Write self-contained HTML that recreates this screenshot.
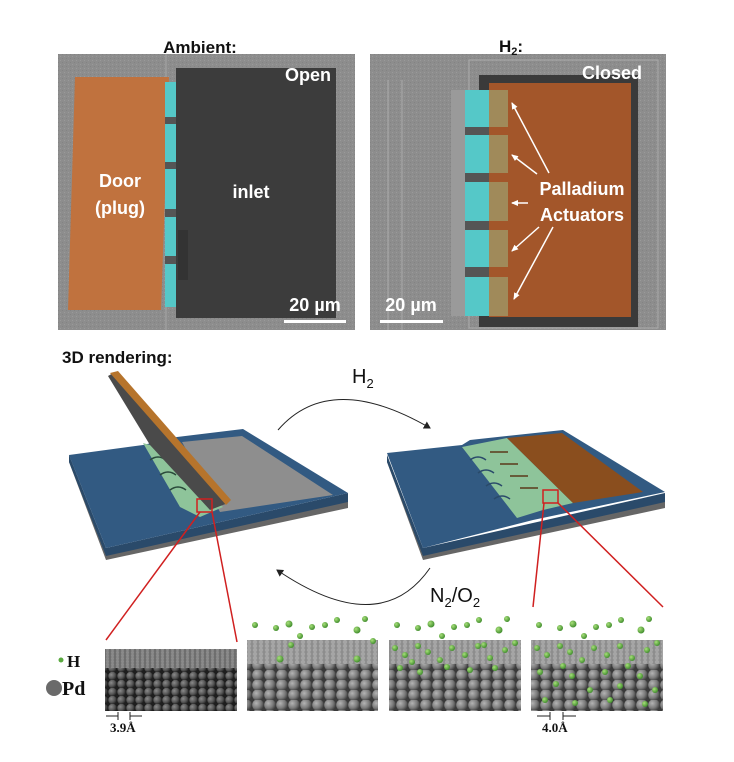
<!DOCTYPE html>
<html><head><meta charset="utf-8"><style>
html,body{margin:0;padding:0;background:#fff;}
svg{display:block;}
.sans{font-family:"Liberation Sans",sans-serif;}
.serif{font-family:"Liberation Serif",serif;}
</style></head><body>
<svg width="734" height="762" viewBox="0 0 734 762" xmlns="http://www.w3.org/2000/svg">
<defs>
<radialGradient id="sph" cx="0.35" cy="0.35" r="0.7"><stop offset="0" stop-color="#b4b4b4"/><stop offset="0.6" stop-color="#7a7a7a"/><stop offset="1" stop-color="#3c3c3c"/></radialGradient>
<radialGradient id="sphd" cx="0.35" cy="0.35" r="0.7"><stop offset="0" stop-color="#8a8a8a"/><stop offset="0.6" stop-color="#555"/><stop offset="1" stop-color="#222"/></radialGradient>
<radialGradient id="gr" cx="0.35" cy="0.35" r="0.7"><stop offset="0" stop-color="#a8e07a"/><stop offset="1" stop-color="#3d8a2a"/></radialGradient>
<pattern id="big" width="12" height="10" patternUnits="userSpaceOnUse"><rect width="12" height="10" fill="#3a3a3a"/><circle cx="6" cy="5" r="5.8" fill="url(#sph)"/></pattern>
<pattern id="sm" width="9" height="8" patternUnits="userSpaceOnUse"><rect width="9" height="8" fill="#1e1e1e"/><circle cx="4.5" cy="4" r="4.2" fill="url(#sphd)"/></pattern>
<pattern id="top" width="6" height="4" patternUnits="userSpaceOnUse"><rect width="6" height="4" fill="#8d8d8d"/><circle cx="3" cy="2" r="2.2" fill="#a5a5a5"/></pattern>
<pattern id="top1" width="5" height="3" patternUnits="userSpaceOnUse"><rect width="5" height="3" fill="#6e6e6e"/><circle cx="2.5" cy="1.5" r="1.6" fill="#8a8a8a"/></pattern>
<pattern id="sem" width="4" height="4" patternUnits="userSpaceOnUse"><rect width="4" height="4" fill="#8d8d8d"/><rect width="1" height="1" fill="#9a9a9a"/><rect x="2" y="2" width="1" height="1" fill="#838383"/></pattern>
<marker id="ar" markerWidth="8" markerHeight="8" refX="6" refY="4" orient="auto" markerUnits="userSpaceOnUse"><path d="M0,0 L7,4 L0,8 z" fill="#222"/></marker>
<marker id="aw" markerWidth="8" markerHeight="8" refX="6" refY="4" orient="auto" markerUnits="userSpaceOnUse"><path d="M0,1 L7,4 L0,7 z" fill="#fff"/></marker>
</defs>

<!-- Left SEM -->
<rect x="58" y="54" width="297" height="276" fill="url(#sem)"/>
<line x1="166" y1="54" x2="166" y2="330" stroke="#a8a8a8" stroke-width="1"/>
<rect x="176" y="68" width="160" height="250" fill="#3c3c3c"/>
<rect x="178" y="230" width="10" height="50" fill="#333"/>
<polygon points="75,77 169,77 161,310 68,310" fill="#c0723e"/>
<rect x="165" y="82" width="11" height="225" fill="#55c8c8"/>
<rect x="165" y="117" width="11" height="7" fill="#555"/>
<rect x="165" y="162" width="11" height="7" fill="#555"/>
<rect x="165" y="209" width="11" height="8" fill="#555"/>
<rect x="165" y="256" width="11" height="8" fill="#555"/>
<g class="sans" font-weight="bold" fill="#fff" font-size="18" text-anchor="middle">
<text x="308" y="81">Open</text>
<text x="120" y="187">Door</text>
<text x="120" y="214">(plug)</text>
<text x="251" y="198">inlet</text>
<text x="315" y="311">20 µm</text>
</g>
<rect x="284" y="320" width="62" height="3" fill="#fff"/>

<!-- Right SEM -->
<rect x="370" y="54" width="296" height="276" fill="url(#sem)"/>
<rect x="469" y="60" width="189" height="268" fill="none" stroke="#aaa" stroke-width="1"/>
<rect x="451" y="90" width="16" height="226" fill="#9a9a9a"/>
<line x1="388" y1="80" x2="388" y2="330" stroke="#aaa"/>
<line x1="402" y1="80" x2="402" y2="330" stroke="#aaa"/>
<rect x="479" y="75" width="159" height="252" fill="#3a3a3a"/>
<rect x="489" y="83" width="142" height="234" fill="#a3562a"/>
<rect x="465" y="90" width="24" height="226" fill="#55c8c8"/>
<rect x="489" y="90" width="19" height="226" fill="#a08a5a"/>
<g fill="#555"><rect x="465" y="127" width="24" height="8"/><rect x="465" y="173" width="24" height="9"/><rect x="465" y="221" width="24" height="9"/><rect x="465" y="267" width="24" height="10"/></g>
<g fill="#a3562a"><rect x="489" y="127" width="19" height="8"/><rect x="489" y="173" width="19" height="9"/><rect x="489" y="221" width="19" height="9"/><rect x="489" y="267" width="19" height="10"/></g>
<g class="sans" font-weight="bold" fill="#fff" font-size="18" text-anchor="middle">
<text x="612" y="79">Closed</text>
<text x="582" y="195">Palladium</text>
<text x="582" y="221">Actuators</text>
<text x="411" y="311">20 µm</text>
</g>
<g stroke="#fff" stroke-width="1.5" marker-end="url(#aw)">
<line x1="549" y1="173" x2="512" y2="103"/>
<line x1="537" y1="174" x2="512" y2="155"/>
<line x1="528" y1="203" x2="512" y2="203"/>
<line x1="539" y1="227" x2="512" y2="251"/>
<line x1="553" y1="227" x2="514" y2="299"/>
</g>
<rect x="380" y="320" width="63" height="3" fill="#fff"/>

<!-- Titles -->
<text class="sans" x="200" y="53" font-size="17" font-weight="bold" text-anchor="middle" fill="#111">Ambient:</text>
<text class="sans" x="499" y="52" font-size="17" font-weight="bold" fill="#111">H<tspan font-size="11" dy="3">2</tspan><tspan dy="-3">:</tspan></text>

<!-- 3D rendering -->
<text class="sans" x="62" y="363" font-size="17" font-weight="bold" fill="#111">3D rendering:</text>
<text class="sans" x="352" y="383" font-size="20" fill="#111">H<tspan font-size="13" dy="5">2</tspan></text>
<path d="M278,430 Q330,370 430,428" fill="none" stroke="#222" stroke-width="1" marker-end="url(#ar)"/>
<path d="M430,568 Q380,640 277,570" fill="none" stroke="#222" stroke-width="1" marker-end="url(#ar)"/>
<text class="sans" x="430" y="602" font-size="20" fill="#111">N<tspan font-size="13" dy="5">2</tspan><tspan dy="-5">/O</tspan><tspan font-size="13" dy="5">2</tspan></text>

<!-- Left device -->
<g>
<polygon points="69,455 106,550 348,494 348,508 106,560 69,462" fill="#666"/>
<polygon points="69,455 106,548 348,493 348,502 106,556 69,462" fill="#2a4a6a"/>
<polygon points="69,455 143,445 177,437 243,429 348,493 106,548" fill="#325a82"/>
<polygon points="182,442 242,436 333,495 220,512" fill="#8e8e8e"/>
<polygon points="143,443 160,448 223,507 200,517 180,507" fill="#8ec49a"/>
<path d="M150,460 q8,-6 16,0 M160,475 q8,-6 16,0 M170,490 q8,-6 16,0" stroke="#2a4a3a" fill="none" stroke-width="1.5"/>
<polygon points="108,376 115,372 228,503 210,510 150,445" fill="#4a4a4a"/>
<polygon points="110,373 118,371 231,500 226,505" fill="#b6742c"/>
<rect x="197" y="499" width="15" height="13" fill="none" stroke="#d02020" stroke-width="1.5"/>
</g>
<!-- Right device -->
<g>
<polygon points="387,455 423,550 665,494 665,508 423,560 387,462" fill="#666"/>
<polygon points="387,455 423,548 665,493 665,502 423,556 387,462" fill="#2a4a6a"/>
<polygon points="387,453 462,445 470,440 563,430 665,492 533,520 423,548" fill="#325a82"/>
<polygon points="462,447 507,438 573,503 543,510 517,518" fill="#8ec49a"/>
<polygon points="507,438 562,433 643,492 573,503" fill="#8a4e1e"/>
<path d="M470,460 q8,-6 16,0 M478,473 q8,-6 16,0 M486,486 q8,-6 16,0 M494,499 q8,-6 16,0" stroke="#2a4a6a" fill="none" stroke-width="1.5"/>
<path d="M490,452 h18 M500,464 h18 M510,476 h18 M520,488 h18" stroke="#5a3a1a" stroke-width="1.5"/>
<rect x="543" y="490" width="15" height="13" fill="none" stroke="#d02020" stroke-width="1.5"/>
</g>
<g stroke="#d02020" stroke-width="1.5">
<line x1="200" y1="512" x2="106" y2="640"/>
<line x1="212" y1="512" x2="237" y2="642"/>
<line x1="544" y1="503" x2="533" y2="607"/>
<line x1="558" y1="503" x2="663" y2="607"/>
</g>

<!-- Lattice panels -->
<rect x="105" y="649" width="132" height="20" fill="url(#top1)"/>
<rect x="105" y="668" width="132" height="43" fill="url(#sm)"/>
<rect x="247" y="640" width="131" height="24" fill="url(#top)"/>
<rect x="247" y="664" width="131" height="47" fill="url(#big)"/>
<rect x="389" y="640" width="132" height="24" fill="url(#top)"/>
<rect x="389" y="664" width="132" height="47" fill="url(#big)"/>
<rect x="531" y="640" width="132" height="24" fill="url(#top)"/>
<rect x="531" y="664" width="132" height="47" fill="url(#big)"/>
<g fill="url(#gr)">
<circle cx="255" cy="625" r="3"/><circle cx="276" cy="628" r="3"/><circle cx="289" cy="624" r="3.5"/><circle cx="312" cy="627" r="3"/><circle cx="325" cy="625" r="3"/><circle cx="337" cy="620" r="3"/><circle cx="357" cy="630" r="3.5"/><circle cx="365" cy="619" r="3"/><circle cx="300" cy="636" r="3"/>
<circle cx="397" cy="625" r="3"/><circle cx="418" cy="628" r="3"/><circle cx="431" cy="624" r="3.5"/><circle cx="454" cy="627" r="3"/><circle cx="467" cy="625" r="3"/><circle cx="479" cy="620" r="3"/><circle cx="499" cy="630" r="3.5"/><circle cx="507" cy="619" r="3"/><circle cx="442" cy="636" r="3"/>
<circle cx="539" cy="625" r="3"/><circle cx="560" cy="628" r="3"/><circle cx="573" cy="624" r="3.5"/><circle cx="596" cy="627" r="3"/><circle cx="609" cy="625" r="3"/><circle cx="621" cy="620" r="3"/><circle cx="641" cy="630" r="3.5"/><circle cx="649" cy="619" r="3"/><circle cx="584" cy="636" r="3"/>
<circle cx="291" cy="645" r="3"/><circle cx="280" cy="659" r="3.5"/><circle cx="357" cy="659" r="3.5"/><circle cx="373" cy="641" r="3"/>
<circle cx="395" cy="648" r="3"/><circle cx="405" cy="655" r="3"/><circle cx="418" cy="646" r="3"/><circle cx="428" cy="652" r="3"/><circle cx="440" cy="660" r="3"/><circle cx="452" cy="648" r="3"/><circle cx="465" cy="655" r="3"/><circle cx="478" cy="646" r="3"/><circle cx="490" cy="658" r="3"/><circle cx="505" cy="650" r="3"/><circle cx="515" cy="643" r="3"/><circle cx="400" cy="668" r="3"/><circle cx="420" cy="672" r="3"/><circle cx="447" cy="667" r="3"/><circle cx="470" cy="670" r="3"/><circle cx="495" cy="668" r="3"/><circle cx="412" cy="662" r="3"/><circle cx="484" cy="645" r="3"/>
<circle cx="537" cy="648" r="3"/><circle cx="547" cy="655" r="3"/><circle cx="560" cy="646" r="3"/><circle cx="570" cy="652" r="3"/><circle cx="582" cy="660" r="3"/><circle cx="594" cy="648" r="3"/><circle cx="607" cy="655" r="3"/><circle cx="620" cy="646" r="3"/><circle cx="632" cy="658" r="3"/><circle cx="647" cy="650" r="3"/><circle cx="657" cy="643" r="3"/>
<circle cx="540" cy="672" r="3"/><circle cx="556" cy="684" r="3"/><circle cx="572" cy="676" r="3"/><circle cx="590" cy="690" r="3"/><circle cx="605" cy="672" r="3"/><circle cx="620" cy="686" r="3"/><circle cx="640" cy="676" r="3"/><circle cx="655" cy="690" r="3"/><circle cx="545" cy="700" r="3"/><circle cx="575" cy="703" r="3"/><circle cx="610" cy="700" r="3"/><circle cx="645" cy="704" r="3"/><circle cx="563" cy="666" r="3"/><circle cx="628" cy="666" r="3"/>
</g>

<!-- Legend -->
<circle cx="61" cy="660" r="2.5" fill="#5aaa40"/>
<text class="serif" x="67" y="667" font-size="17" font-weight="bold" fill="#111">H</text>
<circle cx="54" cy="688" r="8" fill="#6a6a6a"/>
<text class="serif" x="62" y="695" font-size="20" font-weight="bold" fill="#111">Pd</text>

<g stroke="#222" stroke-width="1">
<line x1="106" y1="716" x2="118" y2="716"/><line x1="118" y1="712" x2="118" y2="720"/>
<line x1="130" y1="716" x2="142" y2="716"/><line x1="130" y1="712" x2="130" y2="720"/>
<line x1="537" y1="716" x2="550" y2="716"/><line x1="550" y1="712" x2="550" y2="720"/>
<line x1="563" y1="716" x2="576" y2="716"/><line x1="563" y1="712" x2="563" y2="720"/>
</g>
<text class="serif" x="110" y="732" font-size="13" font-weight="bold" fill="#111">3.9Å</text>
<text class="serif" x="542" y="732" font-size="13" font-weight="bold" fill="#111">4.0Å</text>
</svg>
</body></html>
